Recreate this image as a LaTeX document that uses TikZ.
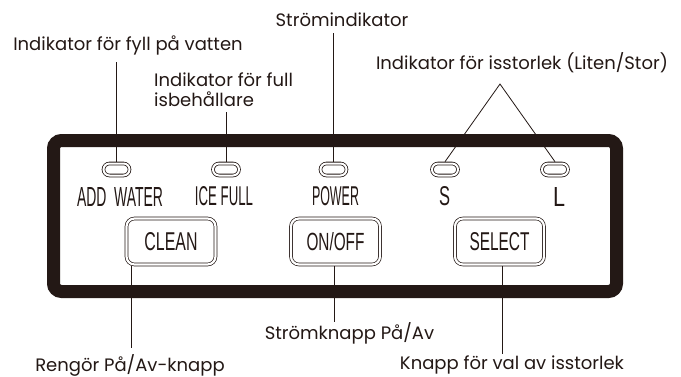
\documentclass[tikz,border=0pt]{standalone}
\usepackage{graphicx}
\usepackage{fontspec}
\setmainfont{Poppins}
\newfontfamily\panelfont{Liberation Sans}
\definecolor{ink}{HTML}{231815}
\newcommand\plab[3]{\resizebox{#1}{#2}{\panelfont #3}}
\begin{document}
\begin{tikzpicture}[x=1pt,y=-1pt,
  lbl/.style={text=ink, inner sep=0pt, font=\fontsize{18}{20}\selectfont},
  conn/.style={draw=ink, line width=0.8pt},
  led/.style={draw=ink, double=white, double distance=2pt, line width=0.8pt,
    rounded corners=6pt, minimum width=26pt, minimum height=12pt, inner sep=0pt, outer sep=1.8pt},
  btn/.style={draw=ink, double=white, double distance=2.2pt, line width=0.7pt,
    rounded corners=8pt, minimum width=89pt, minimum height=46pt, inner sep=0pt, outer sep=1.8pt, text=ink},
  plabel/.style={inner sep=0pt, text=ink}]
\useasboundingbox[fill=white] (0,0) rectangle (681,376);
% panel frame
\draw[ink, line width=13pt, rounded corners=8pt] (53.5,140.5) rectangle (616.5,291.5);
% LEDs
\node[led] (ledW) at (116.5,169.5) {};
\node[led] (ledI) at (226,169.5) {};
\node[led] (ledP) at (333.5,169.5) {};
\node[led] (ledS) at (445,169.5) {};
\node[led] (ledL) at (555,169.5) {};
% panel labels
\node[plabel] (lW) at (120,196.5) {\plab{86pt}{19pt}{ADD\ \ WATER}};
\node[plabel] (lI) at (224,196.5) {\plab{58pt}{19pt}{ICE FULL}};
\node[plabel] (lP) at (335.5,196.5) {\plab{47pt}{19pt}{POWER}};
\node[plabel] (lS) at (444.5,196.5) {\plab{11pt}{19pt}{S}};
\node[plabel] (lL) at (559,196.5) {\plab{12pt}{19pt}{L}};
% buttons
\node[btn] (bC) at (171,241.5) {\plab{53pt}{18pt}{CLEAN}};
\node[btn] (bO) at (335.5,241.5) {\plab{58pt}{18pt}{ON/OFF}};
\node[btn] (bS) at (499.5,241.5) {\plab{60pt}{18pt}{SELECT}};
% callout texts
\node[lbl] (t1) at (128,45) {Indikator för fyll på vatten};
\node[lbl, align=left, anchor=west] (t2) at (154,90) {Indikator för full\\isbehållare};
\node[lbl] (t3) at (342,20) {Strömindikator};
\node[lbl] (t4) at (522,63) {Indikator för isstorlek (Liten/Stor)};
\node[lbl] (b1) at (349.5,333) {Strömknapp På/Av};
\node[lbl] (b2) at (130,365) {Rengör På/Av-knapp};
\node[lbl] (b3) at (512,365) {Knapp för val av isstorlek};
% connectors
\coordinate (c1) at (116,62);
\coordinate (c2) at (226,112);
\coordinate (c3) at (333,33);
\coordinate (apex) at (500,84);
\coordinate (d1) at (131,348);
\coordinate (d2) at (334,322);
\coordinate (d3) at (502,354);
\draw[conn] (c1) -- (c1 |- ledW.north);
\draw[conn] (c2) -- (c2 |- ledI.north);
\draw[conn] (c3) -- (c3 |- ledP.north);
\draw[conn] (ledS.north) -- (apex) -- (ledL.north);
\draw[conn] (d1 |- bC.south) -- (d1);
\draw[conn] (d2 |- bO.south) -- (d2);
\draw[conn] (d3 |- bS.south) -- (d3);
\end{tikzpicture}
\end{document}
